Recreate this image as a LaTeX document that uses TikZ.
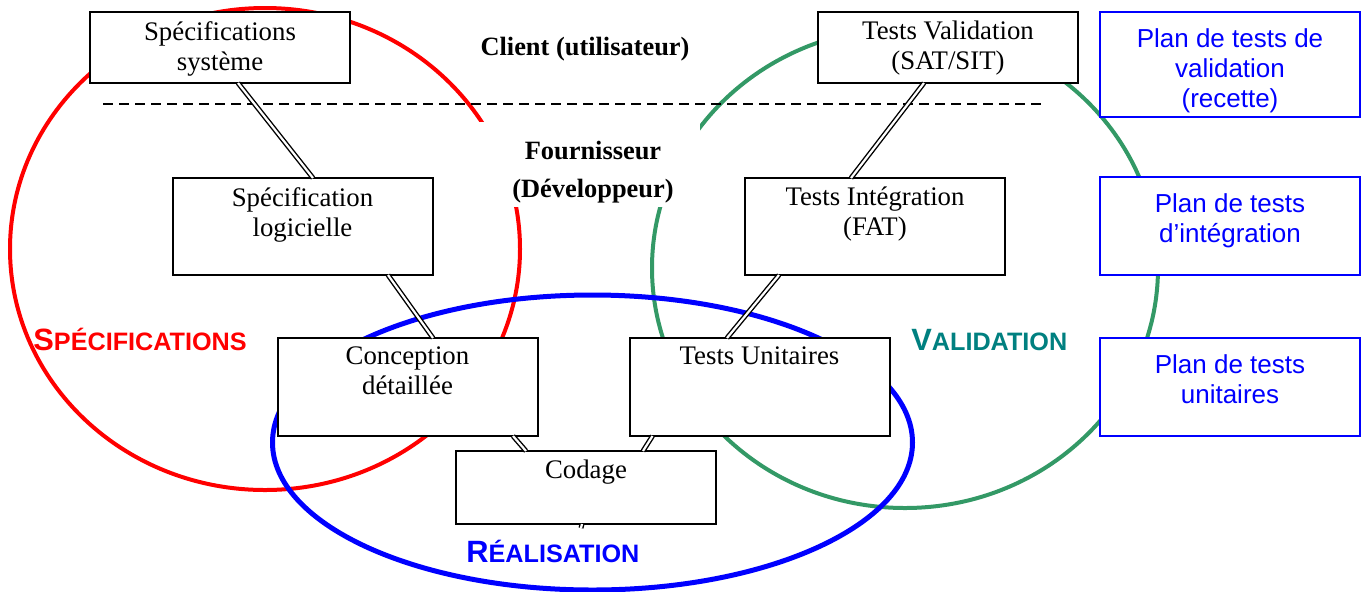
\documentclass[tikz,border=0pt]{standalone}
\usepackage{fontspec}
\setmainfont{Liberation Serif}
\newfontfamily\arialf{Liberation Sans}
\usetikzlibrary{calc}
\definecolor{vgreen}{HTML}{339966}
\definecolor{vteal}{HTML}{008080}
\begin{document}
\begin{tikzpicture}[x=0.5pt,y=-0.5pt,
  box/.style={draw=black, line width=1pt, fill=white, inner sep=0pt, outer sep=0pt, minimum width=130pt},
  pbox/.style={draw=blue, line width=1pt, fill=white, inner sep=0pt, outer sep=0pt, minimum width=130pt},
  txt/.style={anchor=north, align=center, inner sep=0pt, font=\fontsize{13.4}{15}\selectfont},
  ptxt/.style={anchor=north, align=center, inner sep=0pt, text=blue, font=\arialf\fontsize{13}{15}\selectfont},
  btxt/.style={inner sep=0pt, font=\bfseries\fontsize{13.2}{19}\selectfont},
  dbl/.style={draw=black, double, line width=0.7pt, double distance=1.1pt},
  sep/.style={draw=black, line width=1pt, dash pattern=on 5pt off 3pt},
  phase/.style={inner sep=0pt, anchor=base west, font=\arialf\bfseries}
]
\useasboundingbox (0,0) rectangle (1362,591);
% ellipses
\draw[red, line width=2pt] (265,249) ellipse [x radius=255, y radius=241];
\draw[vgreen, line width=2pt] (905,268) ellipse [x radius=253, y radius=240];
\draw[blue, line width=2.5pt] (592.5,442.5) ellipse [x radius=320, y radius=147.5];
% mask behind Fournisseur label
\fill[white] (475,122) rectangle (700,207);
% separator
\coordinate (sepL) at (103,104);
\coordinate (sepR) at (1043,104);
\draw[sep] (sepL) -- (sepR);
% boxes
\node[box, minimum height=35.5pt] (sys) at (220,47.5) {};
\node[box, minimum height=48.5pt] (logi) at (302.5,226.5) {};
\node[box, minimum height=49pt] (conc) at (407.5,387) {};
\node[box, minimum height=36.5pt] (cod) at (586,487.5) {};
\node[box, minimum height=49pt] (tu) at (759.5,387) {};
\node[box, minimum height=48.5pt] (fat) at (875,226.5) {};
\node[box, minimum height=35.5pt] (val) at (948,47.5) {};
\node[pbox, minimum height=52.5pt] (pv) at (1230,64.5) {};
\node[pbox, minimum height=49pt] (pi) at (1230,226) {};
\node[pbox, minimum height=49pt] (pu) at (1230,387) {};
% double connectors
\draw[dbl] ($(sys.south)+(18,0)$) -- ($(logi.north)+(10.5,0)$);
\draw[dbl] ($(logi.south)+(85.5,0)$) -- ($(conc.north)+(25.5,0)$);
\draw[dbl] ($(conc.south)+(105.5,0)$) -- ($(cod.north)+(-60,0)$);
\draw[dbl] ($(cod.north)+(57,0)$) -- ($(tu.south)+(-107,0)$);
\draw[dbl] ($(tu.north)+(-32.5,0)$) -- ($(fat.south)+(-96,0)$);
\draw[dbl] ($(fat.north)+(-24,0)$) -- ($(val.south)+(-24,0)$);
\coordinate (codStub) at ($(cod.south)+(-5,4)$);
\draw[dbl] ($(cod.south)+(-4,0)$) -- (codStub);
% box texts
\node[txt] (sysT) at ([yshift=-4.4pt]sys.north) {Spécifications\\système};
\node[txt] (logiT) at ([yshift=-4.4pt]logi.north) {Spécification\\logicielle};
\node[txt] (concT) at ([yshift=-4.4pt]conc.north) {Conception\\détaillée};
\node[txt] (codT) at ([yshift=-4.4pt]cod.north) {Codage};
\node[txt] (tuT) at ([yshift=-4.4pt]tu.north) {Tests Unitaires};
\node[txt] (fatT) at ([yshift=-4.4pt]fat.north) {Tests Intégration\\(FAT)};
\node[txt] (valT) at ([yshift=-4.4pt]val.north) {Tests Validation\\(SAT/SIT)};
\node[ptxt] (pvT) at ([yshift=-8pt]pv.north) {Plan de tests de\\validation\\(recette)};
\node[ptxt] (piT) at ([yshift=-8pt]pi.north) {Plan de tests\\d’intégration};
\node[ptxt] (puT) at ([yshift=-8pt]pu.north) {Plan de tests\\unitaires};
% role labels
\node[btxt, anchor=base] (client) at (585,55) {Client (utilisateur)};
\node[btxt, anchor=north, align=center] (fourn) at (593,141) {Fournisseur\\(Développeur)};
% phase labels
\node[phase, text=red] (spec) at (33,350) {{\fontsize{15.4}{16}\selectfont S}{\fontsize{12.6}{14}\selectfont PÉCIFICATIONS}};
\node[phase, text=vteal] (valid) at (911,350) {{\fontsize{15.4}{16}\selectfont V}{\fontsize{12.6}{14}\selectfont ALIDATION}};
\node[phase, text=blue] (real) at (466,562) {{\fontsize{15.4}{16}\selectfont R}{\fontsize{12.6}{14}\selectfont ÉALISATION}};
\end{tikzpicture}
\end{document}
